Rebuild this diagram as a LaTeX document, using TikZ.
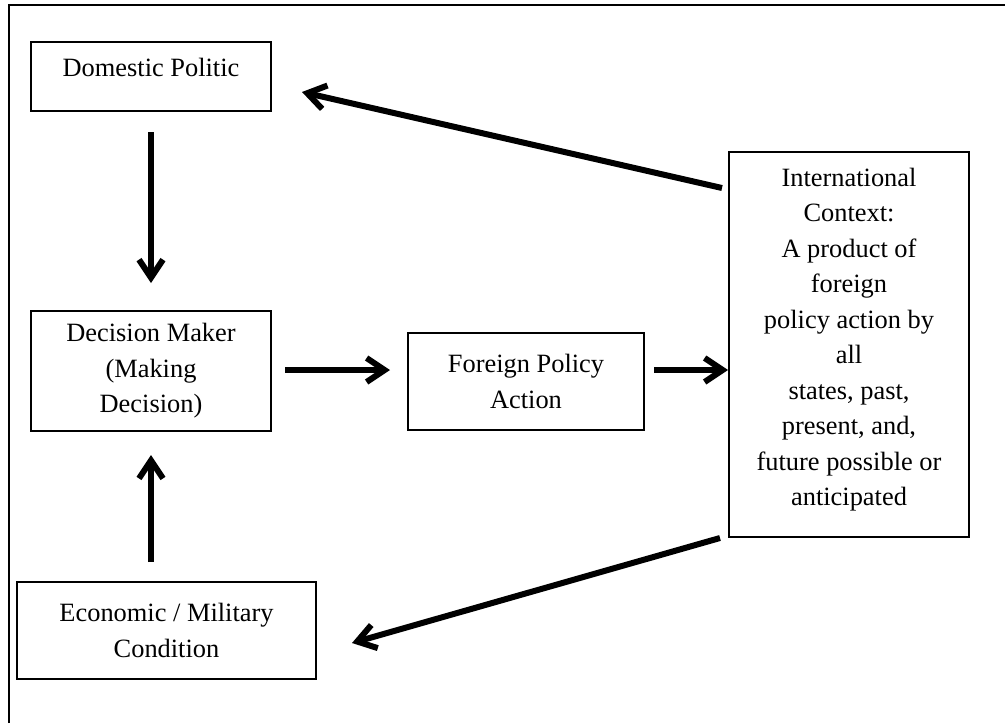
\documentclass[tikz,border=0pt]{standalone}
\usepackage{fontspec}
\setmainfont{Liberation Serif}
\usetikzlibrary{arrows.meta}

\begin{document}
\begin{tikzpicture}[
    x=0.5pt, y=-0.5pt,
    box/.style = {draw, line width=0.75pt, rectangle, align=center,
                inner sep=0pt, minimum width=#1},
    box/.default = 120pt,
    flow/.style = {line width=3pt,
                -{Straight Barb[length=9pt, width=12pt, line width=3pt]}}
                    ]
    \useasboundingbox (0,0) rectangle (1005,723);
    \fontsize{13.2}{17.75}\selectfont
    % frame (only top and left show)
    \draw[line width=1pt] (9,723) -- (9,5) -- (1005,5);
    \node[box, minimum height=34.5pt] at (151,76.5) (dom) {Domestic Politic\\[-9pt]\mbox{}};
    \node[box, minimum height=60pt] at (151,371) (dec) {Decision Maker\\(Making\\Decision)};
    \node[box=118pt, minimum height=48.5pt] at (526,381.5) (fpa) {Foreign Policy\\Action};
    \node[box, minimum height=192.5pt] at (849,344.5) (intl)
        {International\\Context:\\A product of\\foreign\\policy action by\\all\\states, past,\\present, and,\\future possible or\\anticipated\\[-10pt]\mbox{}};
    \node[box=149.5pt, minimum height=48.5pt] at (166.5,630.5) (eco) {Economic / Military\\Condition};
    \coordinate (d1) at (151,132);
    \coordinate (d2) at (151,283);
    \coordinate (u1) at (151,562);
    \coordinate (u2) at (151,455);
    \coordinate (r1) at (285,370);
    \coordinate (r2) at (390,370);
    \coordinate (s1) at (654,370);
    \coordinate (s2) at (728,370);
    \coordinate (t1) at (722,188);
    \coordinate (t2) at (302,92);
    \coordinate (b1) at (720,538);
    \coordinate (b2) at (352,643);
    \draw[flow] (d1) -- (d2);
    \draw[flow] (u1) -- (u2);
    \draw[flow] (r1) -- (r2);
    \draw[flow] (s1) -- (s2);
    \draw[flow] (t1) -- (t2);
    \draw[flow] (b1) -- (b2);
\end{tikzpicture}
\end{document}
